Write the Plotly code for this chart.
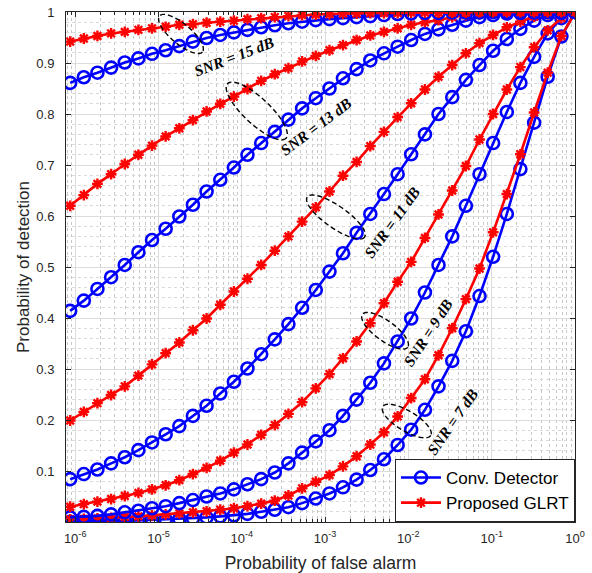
import math
import plotly.graph_objects as go

# ---------------- data ----------------
pfa = [8.71e-7, 1.27e-6, 1.85e-6, 2.70e-6, 3.94e-6, 5.74e-6, 8.37e-6, 1.22e-5,
       1.78e-5, 2.59e-5, 3.78e-5, 5.52e-5, 8.04e-5, 1.17e-4, 1.71e-4, 2.49e-4,
       3.63e-4, 5.30e-4, 7.73e-4, 1.13e-3, 1.64e-3, 2.39e-3, 3.49e-3, 5.09e-3,
       7.43e-3, 1.08e-2, 1.58e-2, 2.30e-2, 3.36e-2, 4.90e-2, 7.14e-2, 0.104,
       0.152, 0.221, 0.323, 0.470, 0.686, 1.0]

conv_7 = [0.0003, 0.0005, 0.0008, 0.0012, 0.002, 0.003, 0.004, 0.005, 0.006, 0.007,
          0.009, 0.011, 0.013, 0.016, 0.020, 0.024, 0.029, 0.037, 0.046, 0.056,
          0.068, 0.083, 0.102, 0.123, 0.151, 0.181, 0.220, 0.266, 0.316, 0.374,
          0.443, 0.520, 0.604, 0.692, 0.783, 0.873, 0.952, 1.0]
glrt_7 = [0.005, 0.006, 0.007, 0.008, 0.010, 0.011, 0.013, 0.015, 0.017, 0.019,
          0.021, 0.024, 0.027, 0.031, 0.036, 0.042, 0.052, 0.066, 0.079, 0.092,
          0.109, 0.129, 0.152, 0.176, 0.207, 0.243, 0.280, 0.327, 0.380, 0.437,
          0.497, 0.568, 0.643, 0.721, 0.803, 0.881, 0.953, 0.998]
conv_9 = [0.009, 0.010, 0.012, 0.015, 0.019, 0.022, 0.027, 0.031, 0.037, 0.043,
          0.050, 0.056, 0.064, 0.074, 0.084, 0.097, 0.115, 0.136, 0.158, 0.180,
          0.208, 0.240, 0.273, 0.311, 0.354, 0.399, 0.450, 0.504, 0.560, 0.620,
          0.682, 0.743, 0.804, 0.861, 0.912, 0.958, 0.988, 1.0]
glrt_9 = [0.030, 0.035, 0.040, 0.045, 0.051, 0.057, 0.064, 0.072, 0.082, 0.094,
          0.106, 0.120, 0.136, 0.152, 0.171, 0.190, 0.212, 0.235, 0.262, 0.290,
          0.321, 0.354, 0.390, 0.429, 0.471, 0.510, 0.557, 0.603, 0.650, 0.698,
          0.750, 0.800, 0.848, 0.892, 0.931, 0.964, 0.988, 1.0]
conv_11 = [0.084, 0.094, 0.103, 0.115, 0.127, 0.141, 0.156, 0.172, 0.188, 0.208,
           0.228, 0.252, 0.275, 0.301, 0.329, 0.358, 0.388, 0.420, 0.455, 0.491,
           0.527, 0.567, 0.604, 0.643, 0.682, 0.721, 0.760, 0.800, 0.833, 0.867,
           0.896, 0.924, 0.947, 0.967, 0.983, 0.994, 0.998, 1.0]
glrt_11 = [0.199, 0.216, 0.233, 0.249, 0.266, 0.287, 0.309, 0.331, 0.352, 0.376,
           0.399, 0.426, 0.452, 0.477, 0.504, 0.532, 0.560, 0.589, 0.617, 0.648,
           0.679, 0.706, 0.737, 0.765, 0.794, 0.821, 0.848, 0.873, 0.896, 0.919,
           0.939, 0.955, 0.970, 0.981, 0.991, 0.996, 0.998, 1.0]
conv_13 = [0.414, 0.434, 0.457, 0.480, 0.504, 0.529, 0.553, 0.575, 0.599, 0.622,
           0.648, 0.671, 0.695, 0.720, 0.743, 0.765, 0.789, 0.811, 0.831, 0.850,
           0.870, 0.888, 0.905, 0.919, 0.932, 0.945, 0.957, 0.966, 0.975, 0.983,
           0.990, 0.994, 0.997, 0.998, 0.999, 1.0, 1.0, 1.0]
glrt_13 = [0.620, 0.641, 0.663, 0.682, 0.702, 0.720, 0.738, 0.756, 0.772, 0.788,
           0.805, 0.820, 0.834, 0.849, 0.865, 0.878, 0.890, 0.903, 0.914, 0.925,
           0.935, 0.945, 0.954, 0.961, 0.968, 0.975, 0.980, 0.984, 0.990, 0.994,
           0.996, 0.997, 0.998, 0.999, 0.999, 1.0, 1.0, 1.0]
conv_15 = [0.861, 0.872, 0.881, 0.891, 0.901, 0.909, 0.918, 0.925, 0.933, 0.942,
           0.949, 0.955, 0.960, 0.965, 0.970, 0.974, 0.978, 0.981, 0.984, 0.986,
           0.988, 0.990, 0.992, 0.994, 0.996, 0.997, 0.998, 0.998, 0.999, 0.999,
           0.999, 1.0, 1.0, 1.0, 1.0, 1.0, 1.0, 1.0]
glrt_15 = [0.942, 0.948, 0.953, 0.958, 0.961, 0.965, 0.968, 0.971, 0.975, 0.976,
           0.979, 0.981, 0.983, 0.986, 0.988, 0.990, 0.992, 0.994, 0.995, 0.996,
           0.997, 0.997, 0.998, 0.998, 0.998, 0.999, 0.999, 0.999, 0.999, 0.999,
           1.0, 1.0, 1.0, 1.0, 1.0, 1.0, 1.0, 1.0]

snr_labels = ["SNR = 7 dB", "SNR = 9 dB", "SNR = 11 dB", "SNR = 13 dB", "SNR = 15 dB"]
# label anchor (log10 Pfa, Pd), text angle
label_pos = [(-1.48, 0.196, -55), (-1.76, 0.371, -57), (-2.20, 0.588, -54),
             (-3.11, 0.775, -37), (-4.09, 0.912, -21)]
# ellipse centres (log10 Pfa, Pd), semi-axes in px, tilt in deg
ellipse_pos = [(-2.02, 0.198, 28, 10, 31), (-2.28, 0.375, 28, 10, 36),
               (-2.87, 0.598, 35, 11, 35), (-3.82, 0.806, 40, 13, 43),
               (-4.73, 0.957, 28, 10, 40)]

conv_series = [conv_7, conv_9, conv_11, conv_13, conv_15]
glrt_series = [glrt_7, glrt_9, glrt_11, glrt_13, glrt_15]

# ---------------- figure ----------------
W, H = 592, 573
ML, MR, MT, MB = 66, 17, 12, 51
PW, PH = W - ML - MR, H - MT - MB
XMIN, XMAX = -6.11, 0.0
YMIN, YMAX = 0.0, 1.0

BLUE = "#0000FF"
RED = "#FF0000"
AX = "#262626"

fig = go.Figure()
for i in range(5):
    fig.add_trace(go.Scatter(
        x=pfa, y=conv_series[i], mode="lines+markers",
        name="Conv. Detector", showlegend=(i == 0), legendrank=1,
        line=dict(color=BLUE, width=2.6),
        marker=dict(symbol="circle-open", size=12, color=BLUE,
                    line=dict(color=BLUE, width=2.6))))
    fig.add_trace(go.Scatter(
        x=pfa, y=glrt_series[i], mode="lines+markers",
        name="Proposed GLRT", showlegend=(i == 0), legendrank=2,
        line=dict(color=RED, width=2.6),
        marker=dict(symbol="asterisk-open", size=9, color=RED,
                    line=dict(color=RED, width=2.4))))

shapes = []
for (lx, yv, a, b, th) in ellipse_pos:
    xc = (lx - XMIN) / (XMAX - XMIN)
    yc = (yv - YMIN) / (YMAX - YMIN)
    t = math.radians(th)
    pts = []
    for k in range(97):
        u = 2 * math.pi * k / 96
        dx = a * math.cos(u) * math.cos(t) - b * math.sin(u) * math.sin(t)
        dy = a * math.cos(u) * math.sin(t) + b * math.sin(u) * math.cos(t)
        pts.append((xc + dx / PW, yc - dy / PH))
    path = "M " + " L ".join(f"{p[0]:.5f},{p[1]:.5f}" for p in pts) + " Z"
    shapes.append(dict(type="path", path=path, xref="paper", yref="paper",
                       layer="above",
                       line=dict(color="black", width=1.4, dash="5px,3px")))

annotations = []
for txt, (lx, yv, ang) in zip(snr_labels, label_pos):
    annotations.append(dict(x=lx, y=yv, xref="x", yref="y", text=txt,
                            showarrow=False, textangle=ang,
                            font=dict(family="Liberation Serif", size=15.5,
                                      color="black", style="italic", weight="bold")))

xmajor = [10.0 ** e for e in range(-6, 1)]
xmajor_txt = [f"10<sup>{e}</sup>" for e in range(-6, 1)]
xminor = [m * 10.0 ** e for e in range(-7, 0) for m in range(2, 10)]
yticks = [round(0.1 * k, 1) for k in range(1, 11)]
yticks_txt = ["0.1", "0.2", "0.3", "0.4", "0.5", "0.6", "0.7", "0.8", "0.9", "1"]
yminor = [round(0.02 * k, 2) for k in range(1, 50) if k % 5 != 0]

fig.update_layout(
    width=W, height=H,
    margin=dict(l=ML, r=MR, t=MT, b=MB, autoexpand=False),
    paper_bgcolor="white", plot_bgcolor="white",
    font=dict(family="Liberation Sans", size=13, color=AX),
    shapes=shapes, annotations=annotations,
    legend=dict(x=1, y=0, xanchor="right", yanchor="bottom",
                bgcolor="white", bordercolor=AX, borderwidth=1,
                font=dict(family="Liberation Sans", size=17, color="black"),
                tracegroupgap=0, itemwidth=40),
)
fig.update_xaxes(
    type="log", range=[XMIN, XMAX], automargin=False,
    tickmode="array", tickvals=xmajor, ticktext=xmajor_txt,
    ticks="inside", ticklen=5, tickcolor=AX, tickfont=dict(size=13, color=AX),
    ticklabelstandoff=4,
    showline=True, linecolor=AX, linewidth=1, mirror="ticks",
    showgrid=True, gridcolor="#DCDCDC", gridwidth=1,
    minor=dict(tickmode="array", tickvals=xminor, ticks="inside", ticklen=3,
               tickcolor=AX, showgrid=True, gridcolor="#C8C8C8", griddash="dot",
               gridwidth=1),
    title=dict(text="Probability of false alarm", standoff=12,
               font=dict(size=17.5, color=AX)),
    zeroline=False,
)
fig.update_yaxes(
    range=[YMIN, YMAX], automargin=False,
    tickmode="array", tickvals=yticks, ticktext=yticks_txt,
    ticks="inside", ticklen=5, tickcolor=AX, tickfont=dict(size=13, color=AX),
    ticklabelstandoff=8,
    showline=True, linecolor=AX, linewidth=1, mirror="ticks",
    showgrid=True, gridcolor="#DCDCDC", gridwidth=1,
    minor=dict(tickmode="array", tickvals=yminor, ticks="",
               showgrid=True, gridcolor="#DADADA", griddash="dot", gridwidth=1),
    title=dict(text="Probability of detection", standoff=2,
               font=dict(size=17, color=AX)),
    zeroline=False,
)

fig.write_html("out.html", config={"displayModeBar": False},
               post_script="document.body.style.margin='0px';")
